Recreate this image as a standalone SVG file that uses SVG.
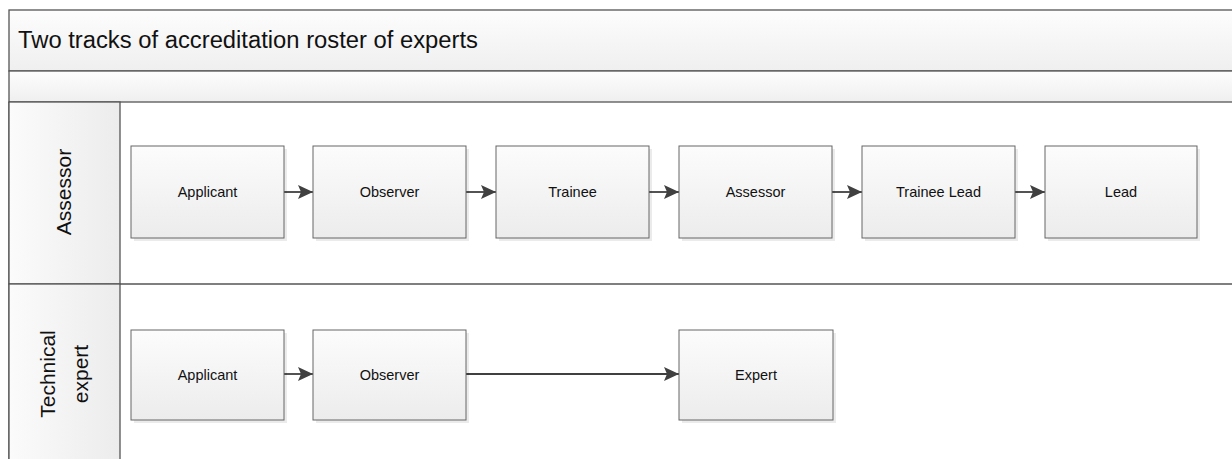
<svg xmlns="http://www.w3.org/2000/svg" width="1232" height="459" viewBox="0 0 1232 459">
<style>
.band{stroke:#555;stroke-width:1.3;fill:url(#gband)}
.hdr{stroke:#555;stroke-width:1.3;fill:url(#ghdr)}
.box{stroke:#666;stroke-width:1;fill:url(#gbox)}
.sh{fill:#000;opacity:0.08}
.t{font-family:"Liberation Sans",Arial,sans-serif;font-size:14.5px;fill:#111;text-anchor:middle;dominant-baseline:central}
.lane{font-family:"Liberation Sans",Arial,sans-serif;font-size:21px;fill:#111;text-anchor:middle}
.c{stroke:#404040;stroke-width:1.8;fill:none;marker-end:url(#ah)}
</style>
<defs>
<linearGradient id="gband" x1="0" y1="0" x2="0" y2="1"><stop offset="0" stop-color="#fdfdfd"/><stop offset="1" stop-color="#efefef"/></linearGradient>
<linearGradient id="ghdr" x1="0" y1="0" x2="1" y2="0"><stop offset="0" stop-color="#fbfbfb"/><stop offset="1" stop-color="#ececec"/></linearGradient>
<linearGradient id="gbox" x1="0" y1="0" x2="0" y2="1"><stop offset="0" stop-color="#fcfcfc"/><stop offset="1" stop-color="#ececec"/></linearGradient>
<marker id="ah" viewBox="0 0 15 14" refX="15" refY="7" markerWidth="15" markerHeight="14" markerUnits="userSpaceOnUse" orient="auto"><path d="M0,0 L15,7 L0,14 L3,7 z" fill="#404040"/></marker>
</defs>
<rect width="1232" height="459" fill="#fff"/>
<g id="pool">
<rect class="band" x="9" y="10" width="1230" height="61"/>
<text x="18" y="48" font-family="Liberation Sans,Arial,sans-serif" font-size="23" fill="#111" textLength="460" lengthAdjust="spacingAndGlyphs">Two tracks of accreditation roster of experts</text>
<rect class="band" x="9" y="71" width="1230" height="31"/>
<line x1="9" y1="102" x2="9" y2="459" stroke="#555" stroke-width="1.3"/>
<line x1="9" y1="284" x2="1232" y2="284" stroke="#555" stroke-width="1.3"/>
</g>
<g id="lane-assessor">
<rect class="hdr" x="9" y="102" width="111" height="182"/>
<text class="lane" transform="translate(71,192) rotate(-90)">Assessor</text>
</g>
<g id="lane-technical">
<rect class="hdr" x="9" y="284" width="111" height="180"/>
<text class="lane" transform="translate(55,374) rotate(-90)">Technical</text>
<text class="lane" transform="translate(88,374) rotate(-90)">expert</text>
</g>
<g id="connectors">
<path class="c" d="M284,192 H313"/>
<path class="c" d="M466,192 H496"/>
<path class="c" d="M649,192 H679"/>
<path class="c" d="M832,192 H862"/>
<path class="c" d="M1015,192 H1045"/>
<path class="c" d="M284,374 H313"/>
<path class="c" d="M466,374 H679"/>
</g>
<g id="n-applicant1"><rect class="sh" x="134" y="149" width="153" height="92"/><rect class="box" x="131" y="146" width="153" height="92"/><text class="t" x="207.5" y="192">Applicant</text></g>
<g id="n-observer1"><rect class="sh" x="316" y="149" width="153" height="92"/><rect class="box" x="313" y="146" width="153" height="92"/><text class="t" x="389.5" y="192">Observer</text></g>
<g id="n-trainee1"><rect class="sh" x="499" y="149" width="153" height="92"/><rect class="box" x="496" y="146" width="153" height="92"/><text class="t" x="572.5" y="192">Trainee</text></g>
<g id="n-assessor1"><rect class="sh" x="682" y="149" width="153" height="92"/><rect class="box" x="679" y="146" width="153" height="92"/><text class="t" x="755.5" y="192">Assessor</text></g>
<g id="n-traineelead1"><rect class="sh" x="865" y="149" width="153" height="92"/><rect class="box" x="862" y="146" width="153" height="92"/><text class="t" x="938.5" y="192">Trainee Lead</text></g>
<g id="n-lead1"><rect class="sh" x="1048" y="149" width="152" height="92"/><rect class="box" x="1045" y="146" width="152" height="92"/><text class="t" x="1121" y="192">Lead</text></g>
<g id="n-applicant2"><rect class="sh" x="134" y="333" width="153" height="90"/><rect class="box" x="131" y="330" width="153" height="90"/><text class="t" x="207.5" y="375">Applicant</text></g>
<g id="n-observer2"><rect class="sh" x="316" y="333" width="153" height="90"/><rect class="box" x="313" y="330" width="153" height="90"/><text class="t" x="389.5" y="375">Observer</text></g>
<g id="n-expert2"><rect class="sh" x="682" y="333" width="154" height="90"/><rect class="box" x="679" y="330" width="154" height="90"/><text class="t" x="756" y="375">Expert</text></g>
</svg>
